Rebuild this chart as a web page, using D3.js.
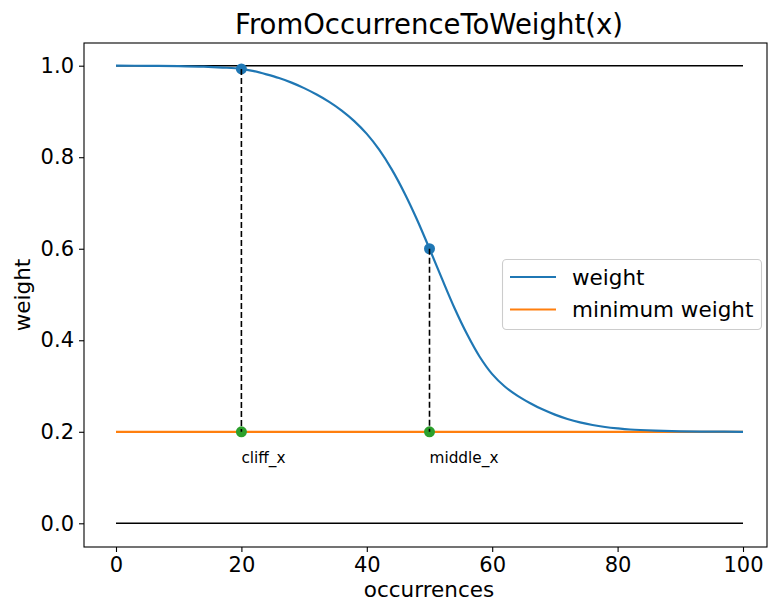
<!DOCTYPE html>
<html>
<head>
<meta charset="utf-8">
<script src="https://cdn.jsdelivr.net/npm/d3@7/dist/d3.min.js"></script>
<style>
  html, body { margin: 0; padding: 0; background: #fff; }
  svg { display: block; font-family: "DejaVu Sans", sans-serif; }
</style>
</head>
<body>
<svg id="chart" width="768" height="603"></svg>
<script>
// ---- data ----
const occurrences = [0, 5, 10, 14, 17, 20, 22, 24, 26, 28, 30, 32, 34, 36, 38, 40, 42, 44, 46, 48, 50,
  52, 54, 56, 58, 60, 62, 64, 66, 68, 70, 72, 74, 76, 78, 80, 82, 86, 90, 95, 100];
const weight = [1.0, 0.9998, 0.9992, 0.998, 0.996, 0.993, 0.988, 0.981, 0.973, 0.963, 0.951, 0.937,
  0.921, 0.902, 0.879, 0.851, 0.816, 0.773, 0.722, 0.664, 0.600,
  0.534, 0.470, 0.413, 0.364, 0.326, 0.299, 0.279, 0.263, 0.249, 0.2375, 0.228, 0.2205, 0.2148,
  0.2105, 0.2074, 0.205, 0.2025, 0.201, 0.2003, 0.200];
const minimumWeight = 0.2;
const boundLines = [0.0, 1.0];
const markerX = [20, 50];
const markerWeight = [0.993, 0.600];
const markerLabels = ["cliff_x", "middle_x"];
const xTicks = [0, 20, 40, 60, 80, 100];
const yTicks = [0.0, 0.2, 0.4, 0.6, 0.8, 1.0];
const legendLabels = ["weight", "minimum weight"];
const titleText = "FromOccurrenceToWeight(x)";
const xLabel = "occurrences";
const yLabel = "weight";

const C_BLUE = "#1f77b4", C_ORANGE = "#ff7f0e", C_GREEN = "#2ca02c";

// ---- layout ----
const svg = d3.select("#chart");
const plot = { left: 84, right: 767, top: 43, bottom: 547 };
const x = d3.scaleLinear().domain([0, 100]).range([116, 743]);
const y = d3.scaleLinear().domain([0, 1]).range([523.3, 65.7]);

// axes
const xAxis = d3.axisBottom(x).tickValues(xTicks).tickFormat(d3.format("d")).tickSize(5).tickPadding(5);
const yAxis = d3.axisLeft(y).tickValues(yTicks).tickFormat(d3.format(".1f")).tickSize(5).tickPadding(5);

const gx = svg.append("g").attr("transform", `translate(0,${plot.bottom})`).call(xAxis);
const gy = svg.append("g").attr("transform", `translate(${plot.left},0)`).call(yAxis);
[gx, gy].forEach(g => {
  g.select(".domain").remove();
  g.selectAll(".tick line").attr("stroke", "#000").attr("stroke-width", 1.1);
  g.selectAll(".tick text").attr("fill", "#000").style("font-size", "21px")
    .style("font-family", "DejaVu Sans");
});

// spines
svg.append("rect")
  .attr("x", plot.left).attr("y", plot.top)
  .attr("width", plot.right - plot.left).attr("height", plot.bottom - plot.top)
  .attr("fill", "none").attr("stroke", "#000").attr("stroke-width", 1.1);

// black bound lines
svg.selectAll("line.bound").data(boundLines).enter().append("line")
  .attr("class", "bound")
  .attr("x1", x(0)).attr("x2", x(100))
  .attr("y1", d => y(d)).attr("y2", d => y(d))
  .attr("stroke", "#000").attr("stroke-width", 1.6);

// minimum weight line
svg.append("line")
  .attr("x1", x(0)).attr("x2", x(100))
  .attr("y1", y(minimumWeight)).attr("y2", y(minimumWeight))
  .attr("stroke", C_ORANGE).attr("stroke-width", 2.2);

// weight curve
const line = d3.line().x((d, i) => x(occurrences[i])).y(d => y(d)).curve(d3.curveCatmullRom.alpha(0.5));
svg.append("path").datum(weight)
  .attr("d", line).attr("fill", "none")
  .attr("stroke", C_BLUE).attr("stroke-width", 2.2);

// markers
markerX.forEach((mx, i) => {
  svg.append("circle").attr("cx", x(mx)).attr("cy", y(markerWeight[i])).attr("r", 5.5).attr("fill", C_BLUE);
  svg.append("circle").attr("cx", x(mx)).attr("cy", y(minimumWeight)).attr("r", 5.5).attr("fill", C_GREEN);
  svg.append("line")
    .attr("x1", x(mx)).attr("x2", x(mx))
    .attr("y1", y(markerWeight[i])).attr("y2", y(minimumWeight))
    .attr("stroke", "#000").attr("stroke-width", 1.6)
    .attr("stroke-dasharray", "6,3");
  svg.append("text")
    .attr("x", x(mx)).attr("y", y(minimumWeight) + 31)
    .style("font-size", "15.3px").attr("fill", "#000")
    .text(markerLabels[i]);
});

// title and axis labels
svg.append("text").attr("x", 429).attr("y", 34)
  .attr("text-anchor", "middle").style("font-size", "27.5px").text(titleText);
svg.append("text").attr("x", 429).attr("y", 597)
  .attr("text-anchor", "middle").style("font-size", "21.5px").text(xLabel);
svg.append("text").attr("transform", `translate(30,${(plot.top + plot.bottom) / 2}) rotate(-90)`)
  .attr("text-anchor", "middle").style("font-size", "21.5px").text(yLabel);

// legend
const lg = svg.append("g");
lg.append("rect").attr("x", 502.5).attr("y", 259.5).attr("width", 259).attr("height", 70)
  .attr("rx", 4).attr("fill", "#fff").attr("fill-opacity", 0.8)
  .attr("stroke", "#cccccc").attr("stroke-width", 1.1);
const legendColors = [C_BLUE, C_ORANGE];
legendLabels.forEach((lab, i) => {
  const ly = 277 + i * 32.5;
  lg.append("line").attr("x1", 510).attr("x2", 556).attr("y1", ly).attr("y2", ly)
    .attr("stroke", legendColors[i]).attr("stroke-width", 2.2);
  lg.append("text").attr("x", 572).attr("y", ly + 7.5).style("font-size", "21.5px").text(lab);
});
</script>
</body>
</html>
